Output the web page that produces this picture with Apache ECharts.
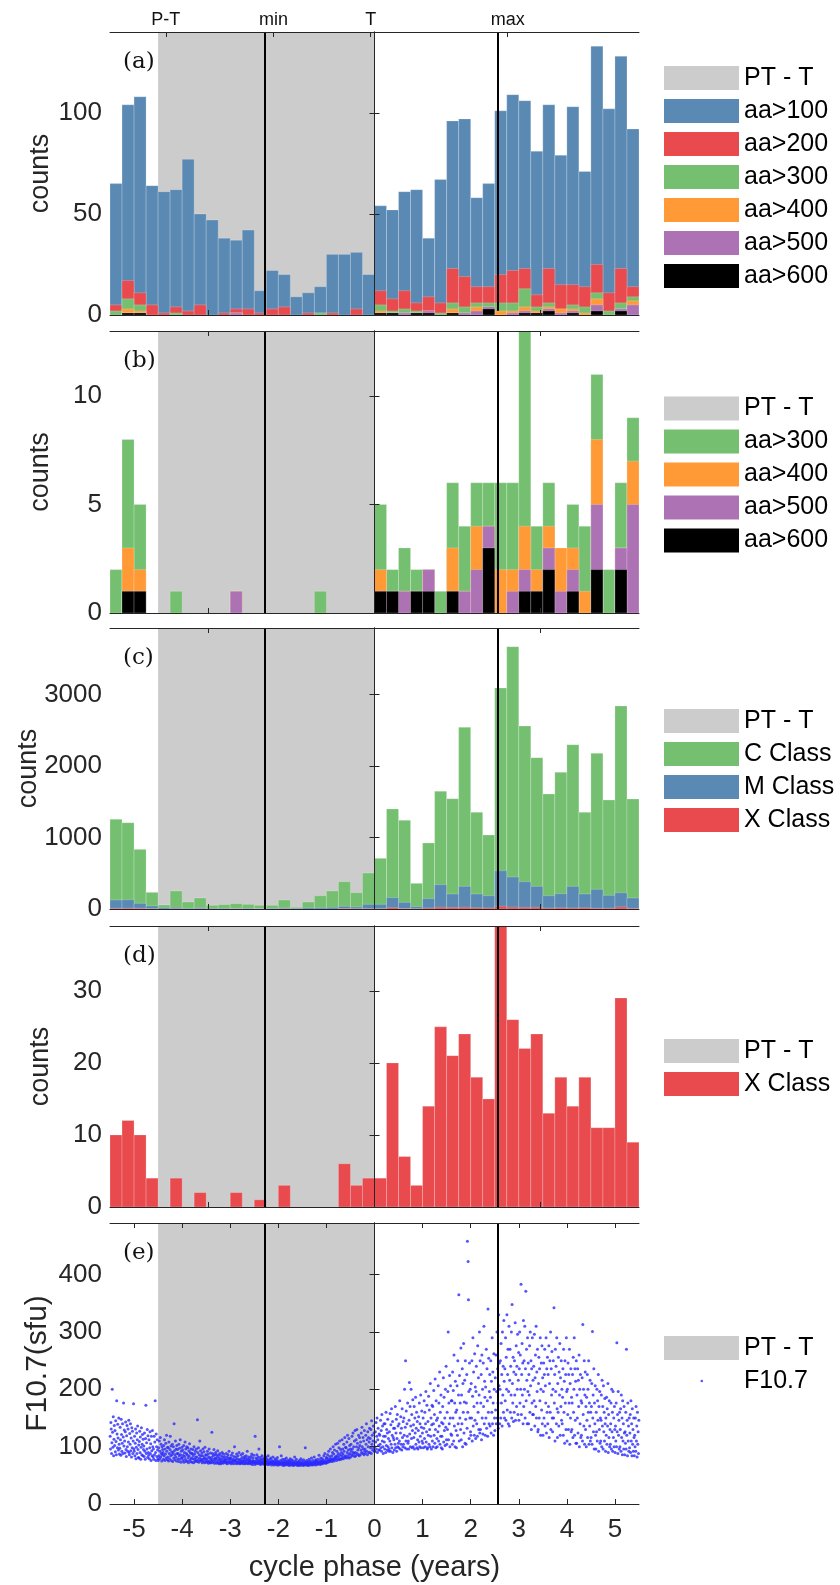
<!DOCTYPE html>
<html>
<head>
<meta charset="utf-8">
<script src="https://cdn.jsdelivr.net/npm/echarts@6/dist/echarts.min.js"></script>
<style>
  html, body { margin: 0; padding: 0; background: #fff; }
  #chart { width: 840px; height: 1585px; }
</style>
</head>
<body>
<div id="chart"></div>
<script>
  // histogram bins: 0.25 yr wide, first edge at -5.5
  const binStart = -5.5
  const binWidth = 0.25

  // (a)/(b) geomagnetic storms
  const aa100 = [65,104,108,64,61,62,77,50,47,38,37,42,12,22,20,9,11,14,30,30,31,20,
                 54,52,61,62,38,67,96,97,58,65,101,109,106,81,104,79,103,71,133,102,128,92]
  const aa200 = [5,17,11,5,1,4,2,5,0,1,3,3,1,3,4,0,1,1,1,0,3,0,
                 12,8,12,6,9,6,23,19,14,14,20,22,23,10,23,15,15,14,25,11,23,14]
  const aa300 = [2,8,5,0,0,1,0,0,0,0,1,0,0,0,0,0,0,1,0,0,0,0,
                 5,2,3,2,2,1,6,4,6,6,6,6,13,4,6,3,5,4,11,2,6,9]
  const aa400 = [0,3,2,0,0,0,0,0,0,0,1,0,0,0,0,0,0,0,0,0,0,0,
                 2,1,1,1,2,0,3,1,4,4,2,2,4,2,4,3,3,1,8,0,3,7]
  const aa500 = [0,1,1,0,0,0,0,0,0,0,1,0,0,0,0,0,0,0,0,0,0,0,
                 1,1,1,1,2,0,1,1,2,4,0,1,2,1,3,1,2,0,5,0,3,5]
  const aa600 = [0,1,1,0,0,0,0,0,0,0,0,0,0,0,0,0,0,0,0,0,0,0,
                 1,1,0,1,1,0,1,0,0,3,0,0,1,1,2,0,1,0,2,0,2,0]

  // (c)/(d) flares
  const cClass = [1254,1207,834,233,56,252,98,154,51,61,75,65,51,51,126,23,98,186,252,382,228,503,
                  709,1399,1240,359,923,1646,1543,2541,1352,1035,3091,3669,2559,2117,1608,1911,2298,1352,2177,1524,2839,1538]
  const mClass = [126,130,79,42,19,23,9,19,9,9,9,9,9,9,19,9,19,19,23,37,28,65,
                  65,159,93,33,145,340,210,317,210,186,536,448,382,317,186,214,317,210,275,191,228,154]
  const xClass = [10,12,10,4,0,4,0,2,0,0,2,0,1,0,3,0,0,0,0,6,3,4,
                  4,20,7,3,14,25,21,24,18,15,39,26,22,24,13,18,14,18,11,11,29,9]

  // (e) F10.7, evenly spaced samples over -5.5 .. 5.5 (one row per 0.1 yr)
  const f107 = [
    118,96,142,131,88,107,200,125,99,152,84,113,137,102,
    128,91,145,109,86,180,122,98,139,115,94,150,104,87,
    97,134,112,85,148,121,92,106,140,88,117,176,101,129,
    110,89,126,143,95,83,119,137,100,92,131,108,146,90,
    86,123,104,140,93,115,82,133,98,127,88,110,175,96,
    92,118,84,106,131,79,99,124,88,112,136,95,81,103,
    80,109,127,90,117,78,99,133,86,104,121,84,113,95,
    101,83,124,92,78,114,172,88,107,96,130,81,119,90,
    85,112,79,98,126,88,105,76,118,93,84,128,100,82,
    96,78,118,86,108,180,90,76,122,100,83,112,94,79,
    76,98,84,110,79,92,116,82,104,88,75,100,86,95,
    90,78,102,84,112,76,96,87,106,80,120,92,77,99,
    82,98,75,108,88,79,95,118,84,101,76,91,86,104,
    74,89,100,80,140,93,77,86,110,82,96,75,102,88,
    95,79,88,74,104,84,97,78,112,86,73,92,81,99,
    80,94,76,85,102,73,90,83,108,78,96,74,88,100,
    86,75,98,81,72,93,84,105,77,90,74,96,80,88,
    73,88,79,95,84,72,100,78,87,74,92,81,76,96,
    82,74,147,90,77,98,73,86,80,110,75,93,84,78,
    76,89,72,84,96,78,74,91,81,72,99,79,86,75,
    85,73,79,92,75,87,71,82,96,74,80,72,89,77,
    72,81,125,76,88,73,84,78,95,71,86,75,80,90,
    79,71,86,74,82,93,72,77,85,70,80,88,73,76,
    70,78,84,72,90,75,81,71,87,76,73,83,79,74,
    77,72,88,74,70,82,79,86,71,75,92,73,80,78,
    73,80,70,85,76,72,89,74,78,70,83,75,100,77,
    76,71,82,74,87,70,79,73,84,72,77,90,71,75,
    70,78,73,86,71,76,81,72,88,74,70,79,75,83,
    75,70,80,72,84,77,71,92,74,78,70,82,73,76,
    72,79,70,75,83,71,87,74,69,80,76,72,85,73,
    74,69,118,72,80,76,70,86,73,78,71,82,75,96,
    70,76,72,81,69,74,78,71,84,73,70,77,72,80,
    73,69,78,71,75,82,70,74,79,72,69,76,84,71,
    69,74,71,78,70,73,80,72,68,76,71,74,82,70,
    72,68,75,70,79,71,74,69,77,73,68,81,71,75,
    68,73,70,100,72,69,76,71,84,70,74,68,78,72,
    71,67,74,69,78,72,68,75,70,80,69,73,71,76,
    68,72,70,76,67,73,79,69,71,74,68,77,70,72,
    70,67,75,71,68,82,72,69,74,70,78,68,73,71,
    67,71,69,74,68,76,70,72,67,79,71,69,75,70,
    69,72,67,77,70,68,74,71,98,69,73,68,76,71,
    68,74,70,67,72,78,69,71,75,68,73,70,80,69,
    71,68,76,70,73,69,82,72,70,75,68,77,71,74,
    70,74,69,78,72,71,85,73,70,76,69,80,72,75,
    73,70,79,72,76,71,84,74,72,88,73,77,71,81,
    72,80,74,86,76,73,92,78,75,83,74,96,77,79,
    76,84,74,90,79,100,77,87,75,94,81,78,104,83,
    80,76,92,84,106,78,88,82,98,77,110,86,79,95,
    78,90,84,112,80,96,87,79,104,92,83,116,81,99,
    84,98,80,108,90,120,82,94,86,114,80,102,88,96,
    82,104,92,86,118,96,84,124,90,100,88,110,83,128,
    90,84,112,100,130,88,106,94,86,120,98,84,116,102,
    86,108,94,124,90,134,100,88,116,96,110,86,128,92,
    96,88,120,104,140,92,112,86,126,100,116,90,108,132,
    90,114,98,130,88,145,104,120,94,110,136,98,124,92,
    100,92,126,108,142,96,118,150,90,112,132,102,94,122,
    94,120,104,146,98,128,92,156,110,136,100,88,118,140,
    108,96,140,118,90,160,102,130,94,124,148,100,114,92,
    96,126,110,158,92,138,104,166,98,120,144,90,116,132,
    112,94,132,104,170,98,124,148,92,114,156,100,136,106,
    98,140,110,180,96,124,152,104,132,94,166,116,100,144,
    104,150,120,200,98,134,250,110,162,96,140,118,176,106,
    110,96,146,212,122,170,100,136,200,114,156,98,128,182,
    100,138,116,170,96,150,124,186,104,132,160,98,144,112,
    96,128,152,108,176,100,140,118,190,98,134,162,110,124,
    106,150,98,132,180,114,160,100,140,196,108,126,172,96,
    98,144,120,188,104,164,130,100,210,118,150,96,138,172,
    110,170,100,140,198,120,156,106,218,130,98,180,146,114,
    100,150,126,206,110,176,136,230,104,160,118,190,98,142,
    118,96,170,140,220,108,186,128,150,102,200,134,240,112,
    104,160,130,196,300,112,176,140,224,100,150,206,122,180,
    120,180,104,230,150,198,110,260,136,176,100,214,160,128,
    98,164,206,120,250,140,190,365,110,224,150,176,130,272,
    112,190,140,236,100,210,160,280,124,178,216,106,250,148,
    104,176,226,132,458,160,423,356,196,114,246,150,200,126,
    120,210,150,250,110,188,290,136,230,170,120,262,146,204,
    114,196,240,140,176,118,276,160,220,130,190,300,124,250,
    130,176,226,112,260,150,200,122,246,170,310,140,214,186,
    120,204,150,270,132,236,180,118,340,160,254,140,196,226,
    136,186,250,124,214,160,290,140,230,176,120,262,200,150,
    128,220,164,260,140,196,300,150,236,176,132,330,206,246,
    140,200,250,150,280,176,226,136,300,190,240,160,320,214,
    150,236,180,290,146,256,200,330,164,226,270,140,196,310,
    136,216,270,160,240,190,300,150,348,210,176,256,144,230,
    160,250,190,316,146,226,276,170,240,200,296,156,216,264,
    146,236,300,176,260,200,383,156,226,280,190,246,140,320,
    170,250,200,310,150,236,371,180,270,216,140,290,196,246,
    140,226,190,276,160,300,206,250,130,236,176,290,156,216,
    156,240,180,296,136,220,260,170,310,150,230,196,270,126,
    130,210,256,150,236,180,290,120,200,246,164,276,140,220,
    120,196,246,150,226,270,136,206,176,290,124,236,160,256,
    140,226,170,276,116,210,250,160,300,130,236,190,266,150,
    126,200,250,150,342,176,226,110,270,196,240,140,290,166,
    116,210,160,256,136,230,190,280,120,220,170,250,146,200,
    140,186,236,120,270,160,214,106,250,176,226,130,290,196,
    110,200,156,246,130,226,176,270,104,210,150,236,126,186,
    130,176,226,116,256,160,200,290,120,236,146,214,106,250,
    106,190,150,236,124,216,170,260,100,200,140,226,116,180,
    120,176,220,110,313,156,200,136,250,104,190,230,130,170,
    100,186,146,226,116,200,160,250,104,176,136,216,110,160,
    116,170,210,104,301,150,190,126,236,96,176,140,206,120,
    96,160,126,200,110,180,146,226,92,170,130,196,106,150,
    110,146,190,100,216,136,170,96,206,126,160,110,184,140,
    92,150,120,186,104,166,136,210,90,156,116,180,100,130,
    104,140,176,96,200,126,160,92,196,116,150,100,170,130,
    90,136,110,176,100,281,126,156,88,196,120,146,96,160,
    100,130,166,92,190,116,150,86,180,110,140,96,170,124,
    86,126,106,160,96,270,120,146,84,176,110,136,92,150,
    98,124,156,90,180,110,140,84,166,104,130,92,150,116,
    84,120,100,150,92,170,110,136,82,160,104,126,88,146
  ]
  const f107Start = -5.5
  const f107End = 5.5

  // phase markers
  const ptSpan = [-4.5, 0]
  const events = [-2.28, 2.57]
  const topNames = ['P-T', 'min', 'T', 'max']
  const topPos = [-4.34, -2.1, -0.08, 2.77]
  const yearTicks = [-5, -4, -3, -2, -1, 0, 1, 2, 3, 4, 5]
  const histTicks = [-3.45, 0, 3.45]

  const yMax = [140, 13, 3930, 39, 490]
  const yTicks = [[0, 50, 100], [0, 5, 10], [0, 1000, 2000, 3000], [0, 10, 20, 30], [0, 100, 200, 300, 400]]
  const yNames = ['counts', 'counts', 'counts', 'counts', 'F10.7(sfu)']
  const panelTags = ['(a)', '(b)', '(c)', '(d)', '(e)']

  const blue = '#5a8ab4', red = '#e84a4d', green = '#74c070', orange = '#ff9a36',
        purple = '#ad72b4', black = '#000000', grey = '#cccccc', dot = '#2a2aff'
  const ink = '#262626'
  const font = 'Liberation Sans, Arial, sans-serif'

  const panels = [
    {hist: [['aa>100', aa100, blue], ['aa>200', aa200, red], ['aa>300', aa300, green],
            ['aa>400', aa400, orange], ['aa>500', aa500, purple], ['aa>600', aa600, black]]},
    {hist: [['aa>300', aa300, green], ['aa>400', aa400, orange], ['aa>500', aa500, purple], ['aa>600', aa600, black]]},
    {hist: [['C Class', cClass, green], ['M Class', mClass, blue], ['X Class', xClass, red]]},
    {hist: [['X Class', xClass, red]]},
    {hist: []}
  ]

  const gridTop = [32, 331, 628, 926, 1223]
  const gridH = [283, 282, 281, 281, 281]
  const gridLeft = 110, gridW = 529
  const yNameSize = [27, 27, 27, 27, 30]
  const yNameGap = [56, 56, 68, 56, 57]

  function histItem(params, api) {
    const v = api.value(1)
    if (!v) return
    const x0 = api.value(0)
    const p0 = api.coord([x0, 0])
    const p1 = api.coord([x0 + binWidth, v])
    const cs = params.coordSys
    const shape = echarts.graphic.clipRectByRect(
      {x: p0[0], y: p1[1], width: p1[0] - p0[0], height: p0[1] - p1[1]},
      {x: cs.x, y: cs.y, width: cs.width, height: cs.height})
    return shape && {
      type: 'rect', shape,
      style: {fill: api.visual('color'), stroke: 'rgba(255,255,255,0.35)', lineWidth: 0.6}
    }
  }

  function spanItem(params, api) {
    const a = api.coord([api.value(0), 0])
    const b = api.coord([api.value(1), 0])
    const cs = params.coordSys
    return {type: 'rect', shape: {x: a[0], y: cs.y, width: b[0] - a[0], height: cs.height}, style: {fill: grey}}
  }

  const plain = v => String(v)
  const grid = [], xAxis = [], yAxis = [], series = [], legend = [], title = []

  panels.forEach((p, i) => {
    const last = i === 4
    grid.push({left: gridLeft, width: gridW, top: gridTop[i], height: gridH[i]})

    xAxis.push({
      gridIndex: i, type: 'value', min: -5.5, max: 5.5, position: 'bottom', z: 10,
      axisLine: {show: true, onZero: false, lineStyle: {color: ink, width: 1}},
      splitLine: {show: false},
      axisTick: {inside: true, length: 5, customValues: last ? yearTicks : histTicks, lineStyle: {color: ink}},
      axisLabel: {show: last, customValues: yearTicks, formatter: plain, fontSize: 26, color: ink, margin: 13, fontFamily: font},
      name: last ? 'cycle phase (years)' : '', nameLocation: 'middle', nameGap: 49, nameMoveOverlap: false,
      nameTextStyle: {fontSize: 29, color: ink, fontFamily: font}
    })
    xAxis.push({
      gridIndex: i, type: 'value', min: -5.5, max: 5.5, position: 'top', z: 10,
      axisLine: {show: true, onZero: false, lineStyle: {color: ink, width: 1}},
      splitLine: {show: false},
      axisTick: {inside: true, length: 5, customValues: i === 0 ? topPos : (last ? yearTicks : histTicks), lineStyle: {color: ink}},
      axisLabel: i === 0 ? {
        show: true, customValues: topPos, fontSize: 18, color: '#111', margin: 3, fontFamily: font,
        formatter: v => topNames[topPos.findIndex(t => Math.abs(t - v) < 1e-6)]
      } : {show: false}
    })

    yAxis.push({
      gridIndex: i, type: 'value', min: 0, max: yMax[i], position: 'left', z: 10,
      axisLine: {show: true, lineStyle: {color: ink, width: 1}},
      splitLine: {show: false},
      axisTick: {show: true, inside: true, length: 5, customValues: yTicks[i], lineStyle: {color: ink}},
      axisLabel: {customValues: yTicks[i], formatter: plain, fontSize: 26, color: ink, margin: 8, fontFamily: font},
      name: yNames[i], nameLocation: 'middle', nameGap: yNameGap[i], nameMoveOverlap: false,
      nameTextStyle: {fontSize: yNameSize[i], color: ink, fontFamily: font}
    })
    yAxis.push({
      gridIndex: i, type: 'value', min: 0, max: yMax[i], position: 'right', z: 10,
      axisLine: {show: true, lineStyle: {color: ink, width: 1}},
      splitLine: {show: false},
      axisTick: {show: true, inside: true, length: 5, customValues: yTicks[i], lineStyle: {color: ink}},
      axisLabel: {show: false}
    })

    series.push({
      name: 'PT - T', type: 'custom', xAxisIndex: 2 * i, yAxisIndex: 2 * i, z: 1,
      itemStyle: {color: grey}, renderItem: spanItem, data: [ptSpan], silent: true,
      markLine: {
        silent: true, symbol: 'none', z: 5, animation: false,
        label: {show: false},
        lineStyle: {color: '#000', width: 2, type: 'solid'},
        data: events.map(x => ({xAxis: x}))
      }
    })

    p.hist.forEach(([name, vals, color], k) => {
      series.push({
        name, type: 'custom', xAxisIndex: 2 * i, yAxisIndex: 2 * i, z: 2 + k,
        itemStyle: {color}, renderItem: histItem, silent: true,
        data: vals.map((v, j) => [binStart + j * binWidth, v])
      })
    })

    const items = ['PT - T'].concat(p.hist.map(h => h[0])).map(n => ({name: n}))
    if (last) {
      const step = (f107End - f107Start) / f107.length
      series.push({
        name: 'F10.7', type: 'scatter', xAxisIndex: 8, yAxisIndex: 8, z: 3,
        symbolSize: 3, itemStyle: {color: dot}, silent: true,
        data: f107.map((v, j) => [f107Start + (j + 0.5) * step, v])
      })
      items.push({name: 'F10.7', icon: 'path://M0,0L0.01,0M75,24L75.01,24M36.5,12a1.3,1.3 0 1,0 2.6,0a1.3,1.3 0 1,0 -2.6,0Z'})
    }
    const center = gridTop[i] + gridH[i] / 2
    legend.push({
      orient: 'vertical', left: 664, top: center - 16 * items.length + 4,
      itemWidth: 75, itemHeight: 24, itemGap: 8, icon: 'rect', selectedMode: false,
      padding: 0,
      textStyle: {fontSize: 25, color: '#000', fontFamily: font},
      data: items
    })

    title.push({
      text: panelTags[i], left: 123, top: gridTop[i] + 19, padding: 0,
      textStyle: {fontSize: 23, fontWeight: 'normal', color: '#111', fontFamily: 'DejaVu Serif, serif'}
    })
  })

  const chart = echarts.init(document.getElementById('chart'), null, {renderer: 'canvas'})
  chart.setOption({
    animation: false,
    backgroundColor: '#fff',
    title, grid, xAxis, yAxis, legend, series
  })
</script>
</body>
</html>
